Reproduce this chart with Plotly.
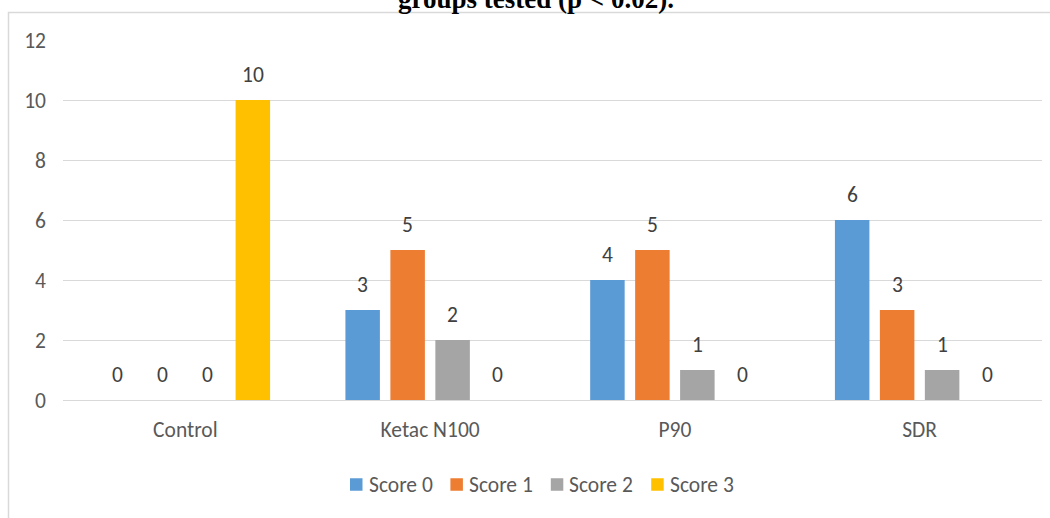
import plotly.graph_objects as go

categories = ["Control", "Ketac N100", "P90", "SDR"]
series_names = ["Score 0", "Score 1", "Score 2", "Score 3"]
score0 = [0, 3, 4, 6]
score1 = [0, 5, 5, 3]
score2 = [0, 2, 1, 1]
score3 = [10, 0, 0, 0]
series_values = [score0, score1, score2, score3]
colors = ["#5B9BD5", "#ED7D31", "#A5A5A5", "#FFC000"]
y_ticks = [0, 2, 4, 6, 8, 10, 12]
title_text = "groups tested (p < 0.02)."

W, H = 1050, 518
L, R, T, B = 63, 8, 40, 118
pw, ph = W - L - R, H - T - B

def px_x(x):
    return (x - L) / pw

def px_y(y):
    return (H - B - y) / ph

FONT = "Carlito, Liberation Sans, Arial, sans-serif"
FS = 21.5
bargap = 0.265
bargroupgap = 0.233

fig = go.Figure()
for name, vals, col in zip(series_names, series_values, colors):
    fig.add_trace(go.Bar(name=name, x=categories, y=vals, marker=dict(color=col, line=dict(width=0)),
                         showlegend=False))

n = len(series_names)
slot = (1 - bargap) / n
for k, vals in enumerate(series_values):
    for i, v in enumerate(vals):
        xc = i - (1 - bargap) / 2 + slot * (k + 0.5)
        fig.add_annotation(x=xc, y=v, xref="x", yref="y", text=str(v), showarrow=False,
                           yanchor="bottom", yshift=10, font=dict(family=FONT, size=FS, color="#404040"))

# legend (drawn as shapes + text, one entry per series)
leg_x0, leg_step, leg_y, sq = 350, 100.4, 484.5, 12.5
for k, (name, col) in enumerate(zip(series_names, colors)):
    x0 = leg_x0 + k * leg_step
    fig.add_shape(type="rect", xref="paper", yref="paper", x0=px_x(x0), x1=px_x(x0 + sq),
                  y0=px_y(leg_y + sq / 2), y1=px_y(leg_y - sq / 2), line=dict(width=0), fillcolor=col)
    fig.add_annotation(x=px_x(x0 + sq + 4), y=px_y(leg_y), xref="paper", yref="paper", text=name,
                       showarrow=False, xanchor="left", yanchor="middle",
                       font=dict(family=FONT, size=FS, color="#595959"))

fig.add_annotation(x=px_x(536), y=px_y(-1), xref="paper", yref="paper", text="<b>" + title_text + "</b>",
                   showarrow=False, xanchor="center", yanchor="middle",
                   font=dict(family="Liberation Serif, Times New Roman, serif", size=27, color="#000000"))

fig.add_shape(type="rect", xref="paper", yref="paper", x0=px_x(8.5), x1=px_x(1060), y0=px_y(530), y1=px_y(12.5),
              line=dict(color="#d9d9d9", width=1.5), fillcolor="rgba(0,0,0,0)", layer="below")

fig.update_layout(
    width=W, height=H,
    margin=dict(l=L, r=R, t=T, b=B, autoexpand=False),
    paper_bgcolor="white", plot_bgcolor="white",
    barmode="group", bargap=bargap, bargroupgap=bargroupgap,
    font=dict(family=FONT, size=FS, color="#595959"),
    showlegend=False,
    xaxis=dict(showgrid=False, showline=False, ticks="", ticklabelstandoff=14, fixedrange=True),
    yaxis=dict(range=[0, 12], tickvals=y_ticks, showgrid=True, gridcolor="#d9d9d9", gridwidth=1,
               zeroline=True, zerolinecolor="#d9d9d9", zerolinewidth=1, showline=False,
               ticks="", ticklabelstandoff=16, fixedrange=True),
)

fig.write_html("out.html", config={"displayModeBar": False},
               post_script="document.body.style.margin='0';document.body.style.overflow='hidden';")
